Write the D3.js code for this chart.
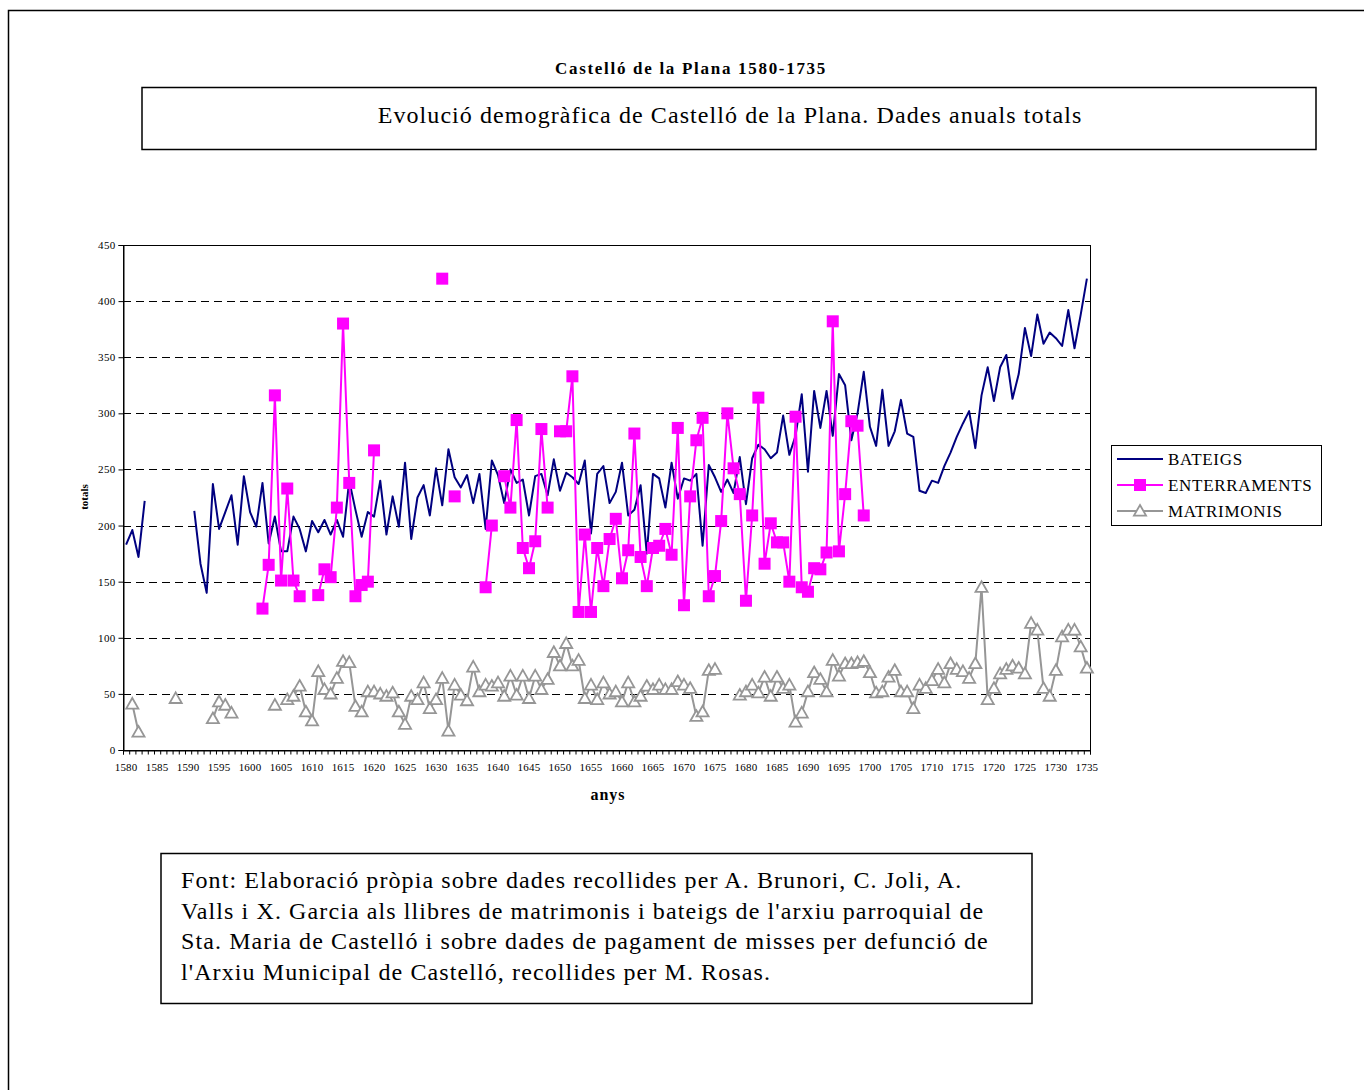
<!DOCTYPE html>
<html>
<head>
<meta charset="utf-8">
<script src="https://cdn.jsdelivr.net/npm/d3@7"></script>
<style>
  html, body { margin: 0; padding: 0; background: #fff; }
  svg { display: block; font-family: "Liberation Serif", "Times New Roman", serif; }
</style>
</head>
<body>
<svg id="chart" width="1364" height="1090"></svg>
<script>
// ---------------- DATA ----------------
const years = d3.range(1580, 1736);
const seriesNames = ["BATEIGS", "ENTERRAMENTS", "MATRIMONIS"];
const xTickLabels = d3.range(1580, 1736, 5);
const yTicks = [0, 50, 100, 150, 200, 250, 300, 350, 400, 450];

const bateigs = [
  183,196,172,222,null,null,null,null,null,null,          // 1580-1589
  null,213,166,140,237,197,212,227,183,244,                // 1590-1599
  212,199,238,184,208,177,177,208,197,177,                 // 1600-1609
  204,194,205,192,205,190,240,214,190,212,                 // 1610-1619
  208,240,192,226,199,256,188,225,236,209,                 // 1620-1629
  251,218,268,243,234,245,220,246,197,258,                 // 1630-1639
  245,220,250,238,241,209,244,246,227,259,                 // 1640-1649
  231,247,243,237,258,193,246,253,220,230,                 // 1650-1659
  256,209,214,236,175,246,242,216,256,224,                 // 1660-1669
  242,240,246,182,254,243,230,241,229,261,                 // 1670-1679
  219,260,272,268,260,265,298,263,280,317,                 // 1680-1689
  248,320,287,320,280,335,325,276,300,337,                 // 1690-1699
  288,271,321,271,284,312,282,279,231,229,                 // 1700-1709
  240,238,253,265,279,291,302,269,316,341,                 // 1710-1719
  311,341,352,313,335,376,351,388,362,372,                 // 1720-1729
  367,360,392,358,388,420                                  // 1730-1735
];

const enterraments = [
  null,null,null,null,null,null,null,null,null,null,       // 1580-1589
  null,null,null,null,null,null,null,null,null,null,       // 1590-1599
  null,null,126,165,316,151,233,151,137,null,              // 1600-1609
  null,138,161,154,216,380,238,137,147,150,                // 1610-1619
  267,null,null,null,null,null,null,null,null,null,        // 1620-1629
  null,420,null,226,null,null,null,null,145,200,           // 1630-1639
  null,244,216,294,180,162,186,286,216,null,               // 1640-1649
  284,284,333,123,192,123,180,146,188,206,                 // 1650-1659
  153,178,282,172,146,180,182,197,174,287,                 // 1660-1669
  129,226,276,296,137,155,204,300,251,228,                 // 1670-1679
  133,209,314,166,202,185,185,150,297,145,                 // 1680-1689
  141,162,161,176,382,177,228,293,289,209,                 // 1690-1699
  null,null,null,null,null,null,null,null,null,null,       // 1700-1709
  null,null,null,null,null,null,null,null,null,null,       // 1710-1719
  null,null,null,null,null,null,null,null,null,null,       // 1720-1729
  null,null,null,null,null,null                            // 1730-1735
];

const matrimonis = [
  null,41,16,null,null,null,null,null,46,null,             // 1580-1589
  null,null,null,null,28,43,40,33,null,null,               // 1590-1599
  null,null,null,null,40,null,45,48,57,34,                 // 1600-1609
  26,70,54,50,64,79,78,39,34,52,                           // 1610-1619
  52,50,48,51,34,23,48,45,60,37,                           // 1620-1629
  45,64,17,58,49,44,74,52,58,57,                           // 1630-1639
  60,48,66,49,66,46,66,54,63,87,                           // 1640-1649
  75,95,75,80,46,58,45,60,50,52,                           // 1650-1659
  43,60,43,48,57,54,58,54,54,61,                           // 1660-1669
  58,55,30,34,71,72,null,null,null,49,                     // 1670-1679
  52,58,51,65,48,65,55,58,25,33,                           // 1680-1689
  52,69,63,52,80,66,77,77,78,79,                           // 1690-1699
  69,51,52,65,71,52,52,37,58,55,                           // 1700-1709
  62,72,60,77,72,70,64,77,145,45,                          // 1710-1719
  55,68,72,75,73,68,113,107,55,48,                         // 1720-1729
  71,101,107,107,92,73                                     // 1730-1735
];

const titleText = "Castelló de la Plana 1580-1735";
const subtitleText = "Evolució demogràfica de Castelló de la Plana. Dades anuals totals";
const noteLines = [
  "Font: Elaboració pròpia sobre dades recollides per A. Brunori, C. Joli, A.",
  "Valls i X. Garcia als llibres de matrimonis i bateigs de l'arxiu parroquial de",
  "Sta. Maria de Castelló i sobre dades de pagament de misses per defunció de",
  "l'Arxiu Municipal de Castelló, recollides per M. Rosas."
];

// ---------------- LAYOUT ----------------
const svg = d3.select("#chart");
const plot = { left: 123, right: 1090, top: 245, bottom: 750 };

const colors = { BATEIGS: "#000080", ENTERRAMENTS: "#FF00FF", MATRIMONIS: "#969696" };

// Outer frame (extends past viewport on right/bottom)
svg.append("path")
  .attr("d", "M8.5,1090 L8.5,10.5 L1364,10.5")
  .attr("fill", "none").attr("stroke", "#000").attr("stroke-width", 1.5);

// Title
svg.append("text")
  .attr("x", 691).attr("y", 74)
  .attr("text-anchor", "middle")
  .attr("font-weight", "bold")
  .attr("font-size", 17)
  .attr("letter-spacing", 1.7)
  .text(titleText);

// Subtitle box
svg.append("rect")
  .attr("x", 142).attr("y", 87.5).attr("width", 1174).attr("height", 62)
  .attr("fill", "#fff").attr("stroke", "#000").attr("stroke-width", 1.5);
svg.append("text")
  .attr("x", 730).attr("y", 123)
  .attr("text-anchor", "middle")
  .attr("font-size", 24)
  .attr("letter-spacing", 1.08)
  .text(subtitleText);

// Scales
const x = d3.scaleBand().domain(years).range([plot.left, plot.right]).paddingInner(0).paddingOuter(0);
const cx = d => x(d) + x.bandwidth() / 2;
const xEdge = d3.scaleLinear().domain([1579.5, 1735.5]).range([plot.left, plot.right]);
const y = d3.scaleLinear().domain([0, 450]).range([plot.bottom, plot.top]);

// Gridlines
svg.append("g").selectAll("line")
  .data(yTicks.filter(t => t > 0 && t < 450))
  .join("line")
  .attr("x1", plot.left).attr("x2", plot.right)
  .attr("y1", d => Math.round(y(d)) + 0.5).attr("y2", d => Math.round(y(d)) + 0.5)
  .attr("stroke", "#000").attr("stroke-width", 1)
  .attr("stroke-dasharray", "8,5");

// Plot frame
svg.append("rect")
  .attr("x", plot.left + 0.5).attr("y", plot.top + 0.5)
  .attr("width", plot.right - plot.left).attr("height", plot.bottom - plot.top)
  .attr("fill", "none").attr("stroke", "#000").attr("stroke-width", 1);

// Y axis
const yAxis = svg.append("g")
  .attr("transform", `translate(${plot.left + 0.5},0)`)
  .call(d3.axisLeft(y).tickValues(yTicks).tickSize(5).tickPadding(3));
yAxis.select(".domain").attr("stroke", "#000");
yAxis.selectAll("text").attr("font-family", "Liberation Serif").attr("font-size", 11)
  .attr("letter-spacing", 0.3).attr("fill", "#000");

// X axis: tick marks at category edges
const xTicksAxis = svg.append("g")
  .attr("transform", `translate(0,${plot.bottom + 0.5})`)
  .call(d3.axisBottom(xEdge).tickValues(d3.range(1579.5, 1736, 1)).tickSize(4).tickFormat(""));
xTicksAxis.select(".domain").attr("stroke", "#000");

// X axis labels
const xLabelAxis = svg.append("g")
  .attr("transform", `translate(0,${plot.bottom + 0.5})`)
  .call(d3.axisBottom(x).tickValues(xTickLabels).tickSize(0).tickPadding(13));
xLabelAxis.select(".domain").remove();
xLabelAxis.selectAll("text").attr("font-family", "Liberation Serif").attr("font-size", 11)
  .attr("letter-spacing", 0.2).attr("fill", "#000");

// Axis titles
svg.append("text")
  .attr("x", 608).attr("y", 800)
  .attr("text-anchor", "middle").attr("font-weight", "bold").attr("font-size", 16)
  .attr("letter-spacing", 1)
  .text("anys");
svg.append("text")
  .attr("transform", "translate(88,497) rotate(-90)")
  .attr("text-anchor", "middle").attr("font-weight", "bold").attr("font-size", 11)
  .text("totals");

// Series
const toPts = arr => years.map((yr, i) => ({ yr, v: arr[i] }));
const lineGen = d3.line().defined(d => d.v != null).x(d => cx(d.yr)).y(d => y(d.v));

const series = [
  { name: "BATEIGS", pts: toPts(bateigs), marker: null },
  { name: "ENTERRAMENTS", pts: toPts(enterraments), marker: "square" },
  { name: "MATRIMONIS", pts: toPts(matrimonis), marker: "triangle" }
];

const triPath = (s) => `M0,${-s * 0.55} L${s * 0.55},${s * 0.42} L${-s * 0.55},${s * 0.42} Z`;

series.forEach(s => {
  const g = svg.append("g");
  g.append("path")
    .datum(s.pts)
    .attr("d", lineGen)
    .attr("fill", "none")
    .attr("stroke", colors[s.name])
    .attr("stroke-width", 2)
    .attr("stroke-linejoin", "round");
  const valid = s.pts.filter(d => d.v != null);
  if (s.marker === "square") {
    g.selectAll("rect").data(valid).join("rect")
      .attr("x", d => cx(d.yr) - 6).attr("y", d => y(d.v) - 6)
      .attr("width", 12).attr("height", 12)
      .attr("fill", colors[s.name]);
  } else if (s.marker === "triangle") {
    g.selectAll("path.m").data(valid).join("path")
      .attr("class", "m")
      .attr("transform", d => `translate(${cx(d.yr)},${y(d.v)})`)
      .attr("d", triPath(11))
      .attr("fill", "#fff")
      .attr("stroke", colors[s.name])
      .attr("stroke-width", 1.8);
  }
});

// Legend
const lg = svg.append("g");
lg.append("rect")
  .attr("x", 1111.5).attr("y", 445.5).attr("width", 210).attr("height", 80)
  .attr("fill", "#fff").attr("stroke", "#000").attr("stroke-width", 1);
series.forEach((s, i) => {
  const ly = 459 + i * 26;
  lg.append("line")
    .attr("x1", 1117).attr("x2", 1163).attr("y1", ly).attr("y2", ly)
    .attr("stroke", colors[s.name]).attr("stroke-width", 2);
  if (s.marker === "square") {
    lg.append("rect").attr("x", 1134).attr("y", ly - 6).attr("width", 12).attr("height", 12)
      .attr("fill", colors[s.name]);
  } else if (s.marker === "triangle") {
    lg.append("path").attr("transform", `translate(1140,${ly})`).attr("d", triPath(11))
      .attr("fill", "#fff").attr("stroke", colors[s.name]).attr("stroke-width", 1.8);
  }
  lg.append("text")
    .attr("x", 1168).attr("y", ly + 6)
    .attr("font-size", 17)
    .attr("letter-spacing", 0.7)
    .text(s.name);
});

// Note box
svg.append("rect")
  .attr("x", 161).attr("y", 853.5).attr("width", 871).attr("height", 150)
  .attr("fill", "#fff").attr("stroke", "#000").attr("stroke-width", 1.5);
svg.append("g").selectAll("text")
  .data(noteLines)
  .join("text")
  .attr("x", 181)
  .attr("y", (d, i) => 888 + i * 30.5)
  .attr("font-size", 24)
  .attr("letter-spacing", 1.1)
  .text(d => d);
</script>
</body>
</html>
